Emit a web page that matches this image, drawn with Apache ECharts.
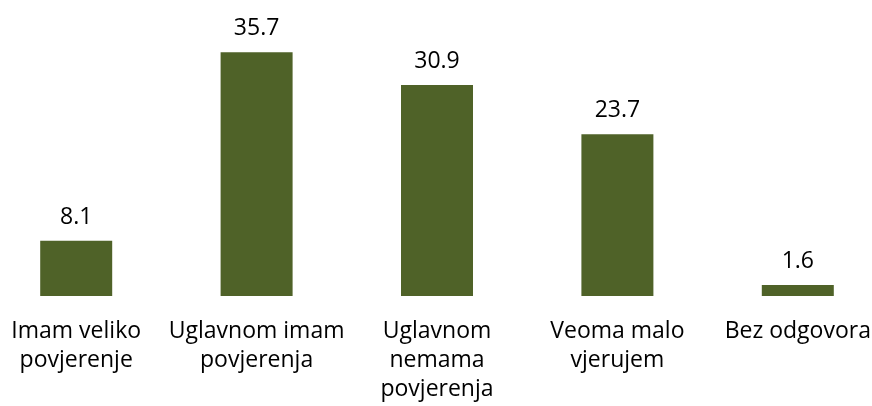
<!DOCTYPE html>
<html>
<head>
<meta charset="utf-8">
<script src="https://cdn.jsdelivr.net/npm/echarts@6/dist/echarts.min.js"></script>
<style>
  html, body { margin: 0; padding: 0; background: #fff; }
  #chart { width: 872px; height: 406px; }
</style>
</head>
<body>
<div id="chart"></div>
<script>
var categories = ['Imam veliko\npovjerenje', 'Uglavnom imam\npovjerenja', 'Uglavnom\nnemama\npovjerenja', 'Veoma malo\nvjerujem', 'Bez odgovora'];
var values = [8.1, 35.7, 30.9, 23.7, 1.6];

var chart = echarts.init(document.getElementById('chart'));
chart.setOption({
    animation: false,
    grid: { left: -14, width: 902, top: 23, bottom: 110, outerBoundsMode: 'none', containLabel: false },
    xAxis: {
        type: 'category',
        data: categories,
        axisLine: { show: false },
        axisTick: { show: false },
        axisLabel: {
            color: '#000',
            fontFamily: 'Open Sans',
            fontSize: 23,
            lineHeight: 29,
            margin: 21,
            interval: 0
        }
    },
    yAxis: {
        type: 'value',
        min: 0,
        max: 40,
        show: false,
        splitLine: { show: false }
    },
    series: [{
        type: 'bar',
        data: values,
        barWidth: 72,
        itemStyle: { color: '#4f6228' },
        label: {
            show: true,
            position: 'top',
            distance: 12,
            color: '#000',
            fontFamily: 'Open Sans',
            fontSize: 23
        }
    }]
});
</script>
</body>
</html>
